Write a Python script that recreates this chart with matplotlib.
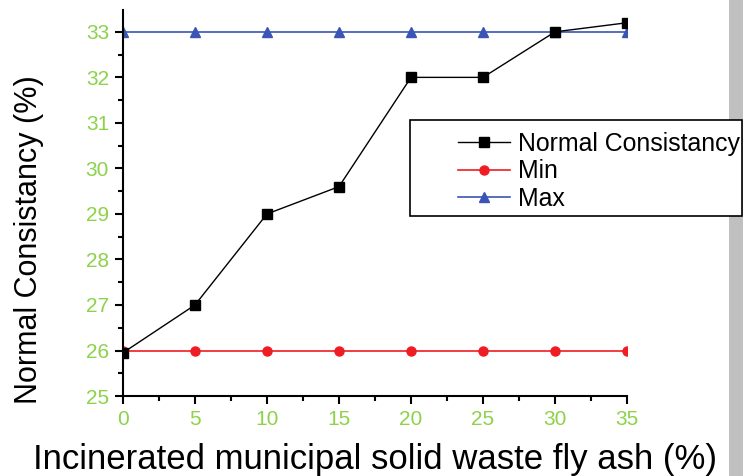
import matplotlib
matplotlib.use("Agg")
import matplotlib.pyplot as plt
from matplotlib.patches import Rectangle
from matplotlib.ticker import MultipleLocator

plt.rcParams['font.family'] = ['Liberation Sans', 'DejaVu Sans']

fly_ash = [0, 5, 10, 15, 20, 25, 30, 35]
normal_consistency = [25.95, 27, 29, 29.6, 32, 32, 33, 33.2]
min_limit = [26, 26, 26, 26, 26, 26, 26, 26]
max_limit = [33, 33, 33, 33, 33, 33, 33, 33]

fig = plt.figure(figsize=(7.43, 4.76), dpi=100)
ax = fig.add_axes([0.1655, 0.168, 0.6784, 0.811])

ax.plot(fly_ash, normal_consistency, color='black', lw=1, marker='s', ms=6.5,
        label='Normal Consistancy', zorder=3)
ax.plot(fly_ash, min_limit, color='#f01c24', lw=1.2, marker='o', ms=6.5,
        label='Min', zorder=2)
ax.plot(fly_ash, max_limit, color='#3a55b4', lw=1.2, marker='^', ms=6.5,
        label='Max', zorder=2)

ax.set_xlim(0, 35)
ax.set_ylim(25, 33.48)
ax.xaxis.set_major_locator(MultipleLocator(5))
ax.xaxis.set_minor_locator(MultipleLocator(2.5))
ax.yaxis.set_major_locator(MultipleLocator(1))
ax.yaxis.set_minor_locator(MultipleLocator(0.5))

for s in ['top', 'right']:
    ax.spines[s].set_visible(False)
for s in ['left', 'bottom']:
    ax.spines[s].set_linewidth(1.5)

ax.tick_params(which='major', direction='out', length=6, width=1.5,
               labelsize=15, labelcolor='#8cd24a', pad=4)
ax.tick_params(which='minor', direction='out', length=3.5, width=1.5)

ax.set_xlabel('Incinerated municipal solid waste fly ash (%)', fontsize=25, labelpad=10)
ax.set_ylabel('Normal Consistancy (%)', fontsize=22)
ax.yaxis.set_label_coords(-0.157, 0.405)

# legend entries without frame, box drawn separately
leg = fig.legend(loc='upper left', bbox_to_anchor=(458 / 743, 1 - 132 / 476),
                 fontsize=17.9, frameon=False, handlelength=2.1, borderpad=0,
                 labelspacing=0.14, handletextpad=0.3, borderaxespad=0)
leg.set_zorder(6)
fig.patches.append(Rectangle((410 / 743, 1 - 216 / 476), 332 / 743, 96 / 476,
                             transform=fig.transFigure, facecolor='white',
                             edgecolor='black', lw=1.2, zorder=5))

# grey strip down the right edge
fig.patches.append(Rectangle((729 / 743, 0), 14 / 743, 1, transform=fig.transFigure,
                             facecolor='#c0c0c0', edgecolor='none', zorder=0))

fig.savefig('out.png', dpi=100)
